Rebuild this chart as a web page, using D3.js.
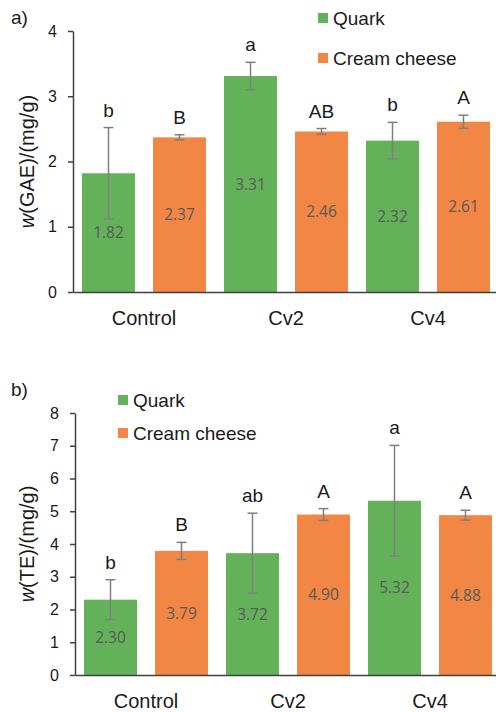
<!DOCTYPE html>
<html>
<head>
<meta charset="utf-8">
<script src="https://cdn.jsdelivr.net/npm/d3@7"></script>
<style>
  body { margin: 0; background: #fff; }
  svg text { font-family: "Liberation Sans", Arial, sans-serif; }
</style>
</head>
<body>
<svg id="chart" width="496" height="712"></svg>
<script>
// categories + series
const categories = ["Control", "Cv2", "Cv4"];
const seriesNames = ["Quark", "Cream cheese"];
const seriesColors = ["#63b159", "#f28644"];

// panel a) w(GAE)
const gaeQuark = [1.82, 3.31, 2.32];
const gaeCream = [2.37, 2.46, 2.61];
const gaeQuarkErr = [0.70, 0.21, 0.28];
const gaeCreamErr = [0.04, 0.045, 0.10];
const gaeQuarkLetters = ["b", "a", "b"];
const gaeCreamLetters = ["B", "AB", "A"];
const gaeTicks = [0, 1, 2, 3, 4];

// panel b) w(TE)
const teQuark = [2.30, 3.72, 5.32];
const teCream = [3.79, 4.90, 4.88];
const teQuarkErr = [0.61, 1.22, 1.69];
const teCreamErr = [0.26, 0.18, 0.15];
const teQuarkLetters = ["b", "ab", "a"];
const teCreamLetters = ["B", "A", "A"];
const teTicks = [0, 1, 2, 3, 4, 5, 6, 7, 8];

var svg = d3.select("#chart");

function drawPanel(opt) {
  var g = svg.append("g");

  var x = d3.scaleBand().domain(categories).range([opt.left, opt.left + 426]).padding(0);
  var xs = d3.scaleBand().domain(seriesNames).range([0, x.bandwidth()])
            .paddingInner(0.254).paddingOuter(0.127);
  var y = d3.scaleLinear().domain([0, opt.max]).range([opt.zero, opt.top]);

  var rows = [];
  categories.forEach(function(c, i) {
    rows.push({cat: c, s: seriesNames[0], v: opt.quark[i], e: opt.quarkErr[i], l: opt.quarkLetters[i], color: seriesColors[0]});
    rows.push({cat: c, s: seriesNames[1], v: opt.cream[i], e: opt.creamErr[i], l: opt.creamLetters[i], color: seriesColors[1]});
  });
  var cx = function(d) { return x(d.cat) + xs(d.s) + xs.bandwidth() / 2; };

  g.selectAll("rect.bar").data(rows).enter().append("rect")
    .attr("class", "bar")
    .attr("x", function(d) { return x(d.cat) + xs(d.s); })
    .attr("y", function(d) { return y(d.v); })
    .attr("width", xs.bandwidth())
    .attr("height", function(d) { return opt.zero - y(d.v); })
    .attr("fill", function(d) { return d.color; });

  // value labels in middle of bar
  g.selectAll("text.val").data(rows).enter().append("text")
    .attr("x", cx)
    .attr("y", function(d) { return (y(d.v) + opt.zero) / 2; })
    .attr("dy", "0.36em")
    .attr("text-anchor", "middle")
    .style("font-family", "'Open Sans', sans-serif")
    .style("font-size", "15.5px")
    .attr("fill", "#595959")
    .text(function(d) { return d.v.toFixed(2); });

  // error bars
  var eb = g.selectAll("g.err").data(rows).enter().append("g")
    .attr("stroke", "#7f7f7f").attr("stroke-width", 1.5);
  eb.append("line")
    .attr("x1", cx).attr("x2", cx)
    .attr("y1", function(d) { return y(d.v + d.e); })
    .attr("y2", function(d) { return y(d.v - d.e); });
  eb.append("line")
    .attr("x1", function(d) { return cx(d) - 5; }).attr("x2", function(d) { return cx(d) + 5; })
    .attr("y1", function(d) { return y(d.v + d.e); }).attr("y2", function(d) { return y(d.v + d.e); });
  eb.append("line")
    .attr("x1", function(d) { return cx(d) - 5; }).attr("x2", function(d) { return cx(d) + 5; })
    .attr("y1", function(d) { return y(d.v - d.e); }).attr("y2", function(d) { return y(d.v - d.e); });

  // significance letters
  g.selectAll("text.sig").data(rows).enter().append("text")
    .attr("x", cx)
    .attr("y", function(d) { return y(d.v + d.e) - 11; })
    .attr("text-anchor", "middle")
    .style("font-size", "19px")
    .attr("fill", "#1a1a1a")
    .text(function(d) { return d.l; });

  // y axis
  var yAxis = g.append("g")
    .attr("transform", "translate(" + opt.left + ",0)")
    .call(d3.axisLeft(y).tickValues(opt.ticks).tickFormat(d3.format("d"))
      .tickSize(5).tickSizeOuter(0).tickPadding(11));
  yAxis.selectAll("path, line").attr("stroke", "#404040").attr("stroke-width", 1.5);
  yAxis.selectAll(".tick text")
    .attr("x", -16)
    .attr("text-anchor", "end")
    .style("font-size", "16px").attr("fill", "#1a1a1a")
    .style("font-family", "'Liberation Sans', Arial, sans-serif");

  // x axis (baseline + category names)
  var xAxis = g.append("g")
    .attr("transform", "translate(0," + opt.zero + ")")
    .call(d3.axisBottom(x).tickSize(0).tickSizeOuter(0).tickPadding(19));
  xAxis.select(".domain").attr("stroke", "#404040").attr("stroke-width", 1.5);
  xAxis.selectAll("text").style("font-size", "20px").attr("fill", "#1a1a1a")
    .style("font-family", "'Liberation Sans', Arial, sans-serif");

  // y title
  var t = g.append("text")
    .attr("transform", "translate(27," + (opt.top + opt.zero) / 2 + ") rotate(-90)")
    .attr("text-anchor", "middle")
    .attr("dy", "0.35em")
    .style("font-size", "20px")
    .attr("fill", "#1a1a1a");
  t.append("tspan").style("font-style", "italic").text("w");
  t.append("tspan").text(opt.title);

  // panel letter
  g.append("text").attr("x", 11).attr("y", opt.panelY)
    .style("font-size", "19px").attr("fill", "#1a1a1a").text(opt.panel);

  // legend
  var lg = g.selectAll("g.leg").data(seriesNames).enter().append("g")
    .attr("transform", function(d, i) { return "translate(" + opt.legX + "," + (opt.legY + i * opt.legStep) + ")"; });
  lg.append("rect").attr("x", 0).attr("y", -5).attr("width", 10).attr("height", 10)
    .attr("fill", function(d, i) { return seriesColors[i]; });
  lg.append("text").attr("x", 15).attr("dy", "0.36em")
    .style("font-size", "19px").attr("fill", "#1a1a1a").text(function(d) { return d; });
}

drawPanel({
  left: 73, top: 31, zero: 292, max: 4, ticks: gaeTicks,
  quark: gaeQuark, cream: gaeCream, quarkErr: gaeQuarkErr, creamErr: gaeCreamErr,
  quarkLetters: gaeQuarkLetters, creamLetters: gaeCreamLetters,
  title: "(GAE)/(mg/g)", panel: "a)", panelY: 24,
  legX: 318, legY: 18, legStep: 40
});

drawPanel({
  left: 75, top: 413, zero: 675, max: 8, ticks: teTicks,
  quark: teQuark, cream: teCream, quarkErr: teQuarkErr, creamErr: teCreamErr,
  quarkLetters: teQuarkLetters, creamLetters: teCreamLetters,
  title: "(TE)/(mg/g)", panel: "b)", panelY: 396,
  legX: 118, legY: 400, legStep: 33
});
</script>
</body>
</html>
